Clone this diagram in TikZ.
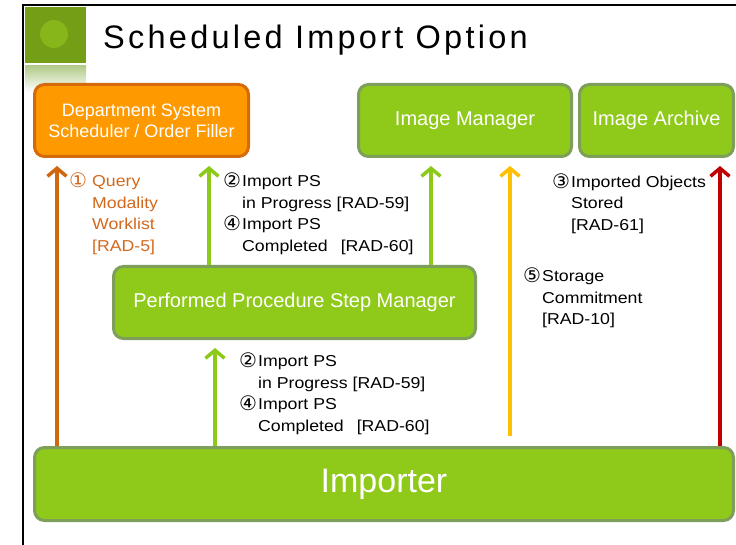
\documentclass[tikz,border=0pt]{standalone}
\usepackage{fontspec}
\setmainfont{Liberation Sans}
\newfontfamily\symfont{DejaVu Sans}
\newfontfamily\labfont[FakeStretch=1.12]{Liberation Sans}
\newfontfamily\titlefont[LetterSpace=10]{Liberation Sans}
\usetikzlibrary{arrows.meta}
\definecolor{boxgreen}{HTML}{8FC91A}
\definecolor{boxedge}{HTML}{7D9F5B}
\definecolor{boxorange}{HTML}{FF9900}
\definecolor{orangeedge}{HTML}{D46A0A}
\definecolor{arrorange}{HTML}{D0660E}
\definecolor{txtorange}{HTML}{D2691E}
\definecolor{arrgreen}{HTML}{8DC919}
\definecolor{arryellow}{HTML}{FFC000}
\definecolor{arrred}{HTML}{C00000}
\definecolor{sqgreen}{HTML}{739E15}
\definecolor{circgreen}{HTML}{86B619}
\definecolor{stripgreen}{HTML}{B3CB8B}
\newcommand\cnum[1]{\makebox[19pt][l]{\smash{\raisebox{-1pt}{\symfont\fontsize{20}{21.5}\selectfont #1}}}}
\newcommand\cnumo[1]{\makebox[23pt][l]{\smash{\raisebox{-1pt}{\symfont\fontsize{20}{21.5}\selectfont #1}}}}
\newcommand\indt{\hspace*{19pt}}
\newcommand\indo{\hspace*{23pt}}
\tikzset{
  box/.style={draw=boxedge, fill=boxgreen, line width=3pt, rounded corners=10pt,
    text=white, inner sep=0pt, align=center, font=\fontsize{20}{24}\selectfont},
  obox/.style={box, draw=orangeedge, fill=boxorange, font=\fontsize{18}{21}\selectfont},
  flow/.style={line width=3.5pt, -{Straight Barb[length=8pt,width=19pt]}, shorten >=8pt},
  lbl/.style={anchor=north west, inner sep=0pt, align=left, font=\labfont\fontsize{15.8}{21.5}\selectfont}
}
\begin{document}
\begin{tikzpicture}[x=1pt,y=-1pt]
\useasboundingbox (0,0) rectangle (736,545);
\fill[white] (0,0) rectangle (736,545);
% header decoration
\fill[sqgreen] (25,7) rectangle (86,63);
\fill[circgreen] (54,34) circle (14);
\shade[top color=stripgreen, bottom color=white] (25,66) rectangle (86,92);
\draw[line width=2pt] (23,545) -- (23,5) -- (736,5);
\node[anchor=base west, inner sep=0pt, font=\titlefont\fontsize{32.5}{36}\selectfont] (title) at (103,49) {Scheduled Import Option};
% boxes
\node[obox, minimum width=214pt, minimum height=72pt] (dept) at (141.5,120.5) {Department System\\Scheduler / Order Filler};
\node[box, minimum width=213pt, minimum height=72pt] (im) at (465,120.5) {Image Manager};
\node[box, minimum width=154pt, minimum height=72pt] (arch) at (656.5,120.5) {Image Archive};
\node[box, minimum width=362pt, minimum height=72pt] (pps) at (294.5,302.5) {Performed Procedure Step Manager};
\node[box, minimum width=699pt, minimum height=73pt, font=\fontsize{34}{40}\selectfont] (imp) at (384,484) {Importer};
% arrow x positions
\coordinate (xa) at (57,0);
\coordinate (xb) at (209,0);
\coordinate (xc) at (431,0);
\coordinate (xd) at (510,0);
\coordinate (xe) at (720,0);
\coordinate (xf) at (215,0);
\draw[flow, draw=arrorange] (imp.north -| xa) -- (dept.south -| xa);
\draw[flow, draw=arrgreen] (pps.north -| xb) -- (dept.south -| xb);
\draw[flow, draw=arrgreen] (pps.north -| xc) -- (im.south -| xc);
\draw[flow, draw=arryellow, shorten <=10pt] (imp.north -| xd) -- (im.south -| xd);
\draw[flow, draw=arrred] (imp.north -| xe) -- (arch.south -| xe);
\draw[flow, draw=arrgreen] (imp.north -| xf) -- (pps.south -| xf);
% labels
\node[lbl, text=txtorange] (l1) at (69,175.5) {\cnumo{①}Query\\\indo Modality\\\indo Worklist\\\indo [RAD-5]};
\node[lbl] (l2) at (223,175.5) {\cnum{②}Import PS\\\indt in Progress [RAD-59]\\\cnum{④}Import PS\\\indt Completed\hspace{13pt}[RAD-60]};
\node[lbl] (l3) at (552,175.5) {\cnum{③}Imported Objects\\\indt Stored\\\indt [RAD-61]};
\node[lbl] (l5) at (523,270.5) {\cnum{⑤}Storage\\\indt Commitment\\\indt [RAD-10]};
\node[lbl] (l4) at (239,355.5) {\cnum{②}Import PS\\\indt in Progress [RAD-59]\\\cnum{④}Import PS\\\indt Completed\hspace{13pt}[RAD-60]};
\end{tikzpicture}
\end{document}
